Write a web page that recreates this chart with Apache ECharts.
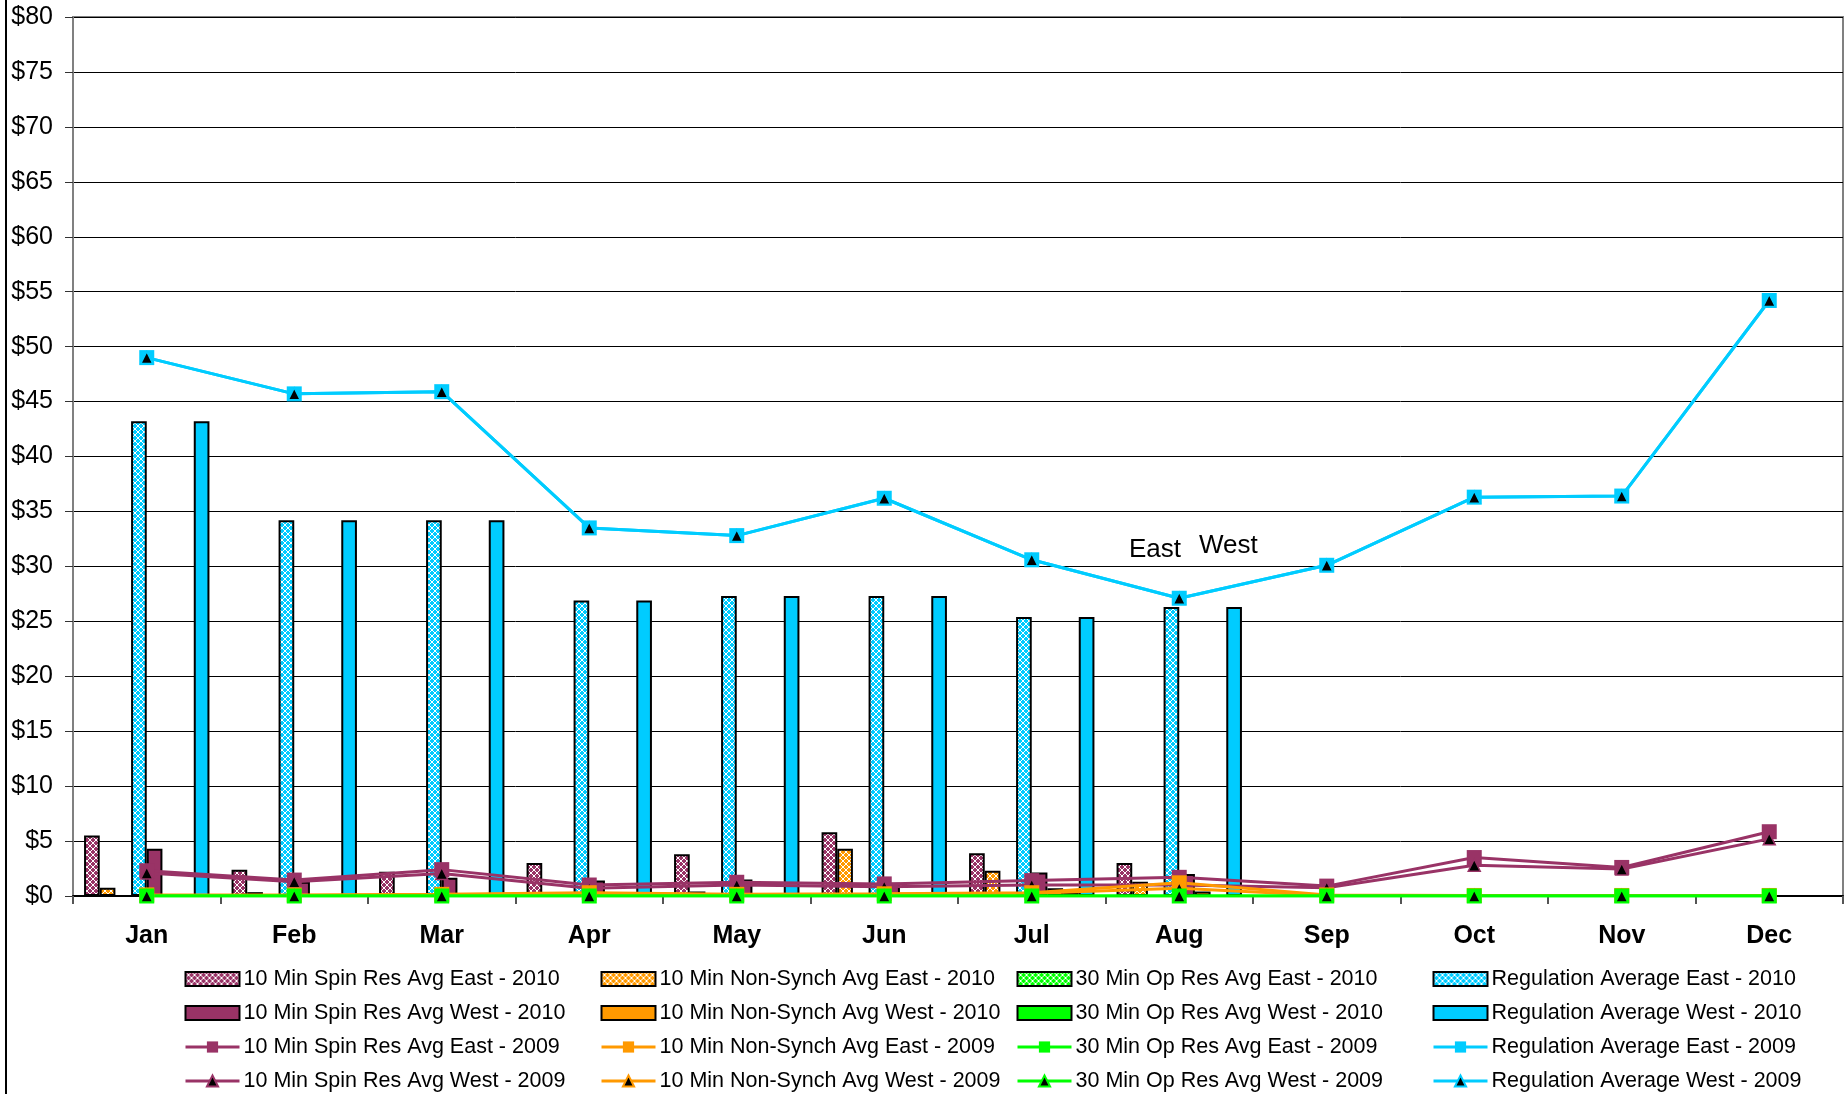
<!DOCTYPE html>
<html>
<head>
<meta charset="utf-8">
<script src="https://cdn.jsdelivr.net/npm/echarts@6/dist/echarts.min.js"></script>
<style>
html,body{margin:0;padding:0;background:#fff;}
#chart{width:1844px;height:1094px;}
</style>
</head>
<body>
<div id="chart"></div>
<script>
const months = ['Jan','Feb','Mar','Apr','May','Jun','Jul','Aug','Sep','Oct','Nov','Dec'];
const yTicks = [0, 80, 5];

// 2010 bars (East / West)
const spinEast2010      = [5.5, 2.4, 2.2, 3.0, 3.8, 5.8, 3.9, 3.0, null, null, null, null];
const nonSynchEast2010  = [0.75, 0.35, 0.05, 0.2, 0.4, 4.3, 2.3, 1.3, null, null, null, null];
const opResEast2010     = [0, 0, 0, 0, 0, 0, 0, 0, null, null, null, null];
const regEast2010       = [43.2, 34.2, 34.2, 26.9, 27.3, 27.3, 25.4, 26.3, null, null, null, null];
const spinWest2010      = [4.3, 1.3, 1.65, 1.4, 1.5, 1.2, 2.15, 2.0, null, null, null, null];
const nonSynchWest2010  = [0.1, 0.1, 0.05, 0.05, 0.05, 0.15, 0.7, 0.4, null, null, null, null];
const opResWest2010     = [0, 0, 0, 0, 0, 0, 0.3, 0, null, null, null, null];
const regWest2010       = [43.2, 34.2, 34.2, 26.9, 27.3, 27.3, 25.4, 26.3, null, null, null, null];

// 2009 lines (East / West)
const spinEast2009      = [2.3, 1.45, 2.4, 1.0, 1.25, 1.1, 1.4, 1.7, 0.9, 3.5, 2.6, 5.85];
const spinWest2009      = [2.1, 1.3, 2.05, 0.7, 1.0, 0.85, 1.0, 1.0, 0.75, 2.8, 2.45, 5.2];
const nonSynchEast2009  = [0.1, 0.1, 0.15, 0.3, 0.15, 0.2, 0.3, 1.2, 0.1, 0.05, 0.05, 0.05];
const nonSynchWest2009  = [0.05, 0.05, 0.1, 0.25, 0.1, 0.15, 0.25, 0.7, 0.05, 0.05, 0.05, 0.05];
const opResEast2009     = [0, 0, 0, 0, 0, 0, 0, 0, 0, 0, 0, 0];
const opResWest2009     = [0, 0, 0, 0, 0, 0, 0, 0, 0, 0, 0, 0];
const regEast2009       = [49.0, 45.7, 45.9, 33.5, 32.8, 36.2, 30.6, 27.1, 30.1, 36.3, 36.4, 54.2];
const regWest2009       = [49.0, 45.7, 45.9, 33.5, 32.8, 36.2, 30.6, 27.1, 30.1, 36.3, 36.4, 54.2];

const C_SPIN = '#993366', C_NS = '#FF9900', C_OP = '#00FF00', C_REG = '#00CCFF';
const FONT = '"Liberation Sans", Arial, sans-serif';

function pattern(color) {
  const c = document.createElement('canvas');
  c.width = 6; c.height = 6;
  const g = c.getContext('2d');
  g.fillStyle = color; g.fillRect(0, 0, 6, 6);
  g.strokeStyle = '#ffffff'; g.lineWidth = 1;
  g.beginPath();
  g.moveTo(0, 0); g.lineTo(6, 6);
  g.moveTo(6, 0); g.lineTo(0, 6);
  g.stroke();
  return { image: c, repeat: 'repeat' };
}

function bar(name, data, color, hatched) {
  return {
    name, type: 'bar', data,
    barGap: '0%', barCategoryGap: '15%',
    itemStyle: { color: hatched ? pattern(color) : color, borderColor: '#000', borderWidth: 2 }
  };
}
function line(name, data, color, tri) {
  return {
    name, type: 'line', data,
    symbol: tri ? 'triangle' : 'rect',
    symbolSize: tri ? 12 : 15,
    showAllSymbol: true,
    lineStyle: { color, width: 3 },
    itemStyle: tri ? { color: '#000', borderColor: color, borderWidth: 1.5 } : { color },
    z: 3
  };
}

const N = {
  sE10: '10 Min Spin Res Avg East - 2010', sW10: '10 Min Spin Res Avg West - 2010',
  sE09: '10 Min Spin Res Avg East - 2009', sW09: '10 Min Spin Res Avg West - 2009',
  nE10: '10 Min Non-Synch Avg East - 2010', nW10: '10 Min Non-Synch Avg West - 2010',
  nE09: '10 Min Non-Synch Avg East - 2009', nW09: '10 Min Non-Synch Avg West - 2009',
  oE10: '30 Min Op Res Avg East - 2010', oW10: '30 Min Op Res Avg West - 2010',
  oE09: '30 Min Op Res Avg East - 2009', oW09: '30 Min Op Res Avg West - 2009',
  rE10: 'Regulation Average East - 2010', rW10: 'Regulation Average West - 2010',
  rE09: 'Regulation Average East - 2009', rW09: 'Regulation Average West - 2009'
};

function legend(left, names) {
  return {
    orient: 'vertical', left, top: 968, height: 200, padding: 0,
    itemWidth: 54, itemHeight: 14, itemGap: 12,
    lineStyle: { width: 3 },
    textStyle: { fontSize: 21.5, fontFamily: FONT, color: '#000', padding: [0, 0, 0, -1] },
    data: names.map((n, i) => i < 2
      ? { name: n, icon: 'rect', itemStyle: { borderWidth: 2, borderColor: '#000' } }
      : { name: n })
  };
}

const chart = echarts.init(document.getElementById('chart'), null, { renderer: 'canvas' });
chart.setOption({
  backgroundColor: '#fff',
  animation: false,
  textStyle: { fontFamily: FONT },
  grid: { left: 73, right: 1, top: 17, bottom: 198, show: true, borderColor: '#808080', borderWidth: 2 },
  legend: [
    legend(184, [N.sE10, N.sW10, N.sE09, N.sW09]),
    legend(600, [N.nE10, N.nW10, N.nE09, N.nW09]),
    legend(1016, [N.oE10, N.oW10, N.oE09, N.oW09]),
    legend(1432, [N.rE10, N.rW10, N.rE09, N.rW09])
  ],
  xAxis: {
    type: 'category', data: months, boundaryGap: true,
    axisLine: { lineStyle: { color: '#000', width: 2 } },
    axisTick: { show: true, interval: 0, length: 8, lineStyle: { color: '#555', width: 2 } },
    axisLabel: { interval: 0, margin: 28, fontSize: 25, fontWeight: 'bold', color: '#000', fontFamily: FONT },
    splitLine: { show: false }
  },
  yAxis: {
    type: 'value', min: yTicks[0], max: yTicks[1], interval: yTicks[2],
    axisLine: { show: true, lineStyle: { color: '#808080', width: 2 } },
    axisTick: { show: true, length: 8, lineStyle: { color: '#333', width: 1 } },
    axisLabel: { margin: 20, fontSize: 25, color: '#000', fontFamily: FONT, formatter: v => '$' + v },
    splitLine: { show: true, lineStyle: { color: '#000', width: 1 } }
  },
  graphic: [
    { type: 'line', shape: { x1: 6, y1: 0, x2: 6, y2: 1094 }, style: { stroke: '#000', lineWidth: 2 }, z: 10 },
    { type: 'text', left: 1129, top: 537, style: { text: 'East', font: '26px ' + FONT, fill: '#000' }, z: 10 },
    { type: 'text', left: 1199, top: 533, style: { text: 'West', font: '26px ' + FONT, fill: '#000' }, z: 10 }
  ],
  series: [
    bar(N.sE10, spinEast2010, C_SPIN, true),
    bar(N.nE10, nonSynchEast2010, C_NS, true),
    bar(N.oE10, opResEast2010, C_OP, true),
    bar(N.rE10, regEast2010, C_REG, true),
    bar(N.sW10, spinWest2010, C_SPIN, false),
    bar(N.nW10, nonSynchWest2010, C_NS, false),
    bar(N.oW10, opResWest2010, C_OP, false),
    bar(N.rW10, regWest2010, C_REG, false),
    line(N.sE09, spinEast2009, C_SPIN, false),
    line(N.sW09, spinWest2009, C_SPIN, true),
    line(N.nE09, nonSynchEast2009, C_NS, false),
    line(N.nW09, nonSynchWest2009, C_NS, true),
    line(N.rE09, regEast2009, C_REG, false),
    line(N.rW09, regWest2009, C_REG, true),
    line(N.oE09, opResEast2009, C_OP, false),
    line(N.oW09, opResWest2009, C_OP, true)
  ]
});
</script>
</body>
</html>
